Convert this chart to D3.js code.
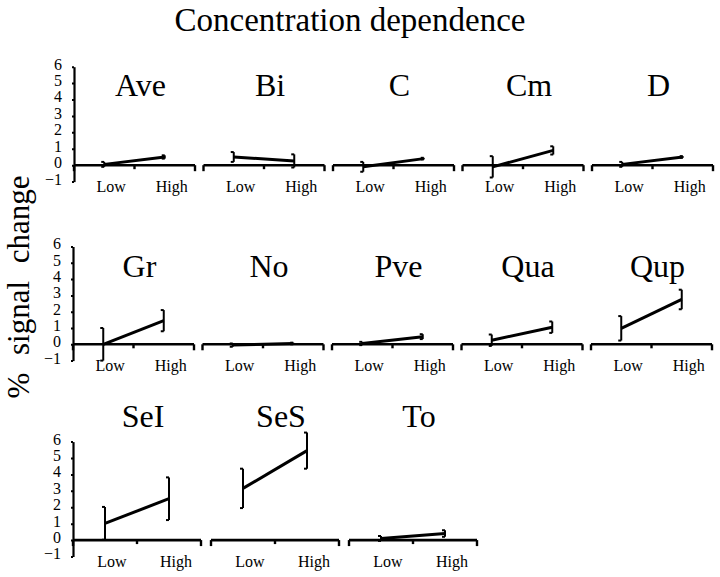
<!DOCTYPE html>
<html>
<head>
<meta charset="utf-8">
<script src="https://cdn.jsdelivr.net/npm/d3@7"></script>
<style>
  body { margin: 0; background: #fff; }
  text { font-family: "Liberation Serif", "Times New Roman", serif; fill: #000; }
</style>
</head>
<body>
<svg id="chart" width="720" height="577"></svg>
<script>
// odorant panels, laid out row by row
const rowNames = [
  ["Ave", "Bi", "C", "Cm", "D"],
  ["Gr", "No", "Pve", "Qua", "Qup"],
  ["SeI", "SeS", "To"]
];
const levels = ["Low", "High"];
const yTicks = [-1, 0, 1, 2, 3, 4, 5, 6];

// mean % signal change and error, same order as rowNames flattened
const lowMean  = [0.05, 0.5, -0.1, -0.1, 0.05,  0.0, -0.05, 0.05, 0.25, 0.98,  1.02, 3.15, 0.1];
const highMean = [0.5, 0.26, 0.4, 0.9, 0.5,     1.45, 0.05, 0.47, 1.05, 2.75,  2.52, 5.45, 0.4];
const lowErr   = [0.15, 0.3, 0.3, 0.65, 0.15,   1.0, 0.1, 0.1, 0.35, 0.75,     1.0, 1.2, 0.15];
const highErr  = [0.1, 0.4, 0.05, 0.25, 0.05,   0.65, 0.05, 0.15, 0.35, 0.6,   1.3, 1.1, 0.2];

// row geometry
const rowLayout = [
  { x0: 74, step: 129.5, w: 121, top: 66.7,  bottom: 181.6, titleY: 96 },
  { x0: 73, step: 129.5, w: 121, top: 246.5, bottom: 360.6, titleY: 277 },
  { x0: 73, step: 138,   w: 128, top: 441.6, bottom: 556.5, titleY: 427 }
];

const svg = d3.select("#chart");

svg.append("text")
  .attr("x", 350)
  .attr("y", 31)
  .attr("text-anchor", "middle")
  .style("font-size", "33px")
  .text("Concentration dependence");

svg.append("text")
  .attr("transform", "translate(29,287) rotate(-90)")
  .attr("text-anchor", "middle")
  .style("font-size", "31px")
  .style("word-spacing", "10px")
  .text("% signal change");

let idx = 0;
rowNames.forEach((names, r) => {
  const L = rowLayout[r];
  const y = d3.scaleLinear().domain([-1, 6]).range([L.bottom, L.top]);

  names.forEach((name, c) => {
    const i = idx++;
    const x0 = L.x0 + c * L.step;
    const x = d3.scaleBand().domain(levels).range([x0, x0 + L.w]);
    const g = svg.append("g");

    // y axis only in first column
    if (c === 0) {
      const yAxis = d3.axisLeft(y)
        .tickValues(yTicks)
        .tickSize(2)
        .tickSizeOuter(0)
        .tickPadding(10)
        .tickFormat(d3.format("d"));
      const ag = g.append("g")
        .attr("transform", `translate(${x0},0)`)
        .call(yAxis);
      ag.select(".domain").attr("stroke", "#000").attr("stroke-width", 2.2);
      ag.selectAll(".tick line").attr("stroke", "#000").attr("stroke-width", 2);
      ag.selectAll(".tick text")
        .attr("dy", "0.15em")
        .style("font-size", "16px")
        .style("font-family", "Liberation Serif, serif");
    }

    // x axis at zero
    const y0 = y(0);
    g.append("line")
      .attr("x1", x0).attr("x2", x0 + L.w)
      .attr("y1", y0).attr("y2", y0)
      .attr("stroke", "#000").attr("stroke-width", 2.6);
    const edges = [x0, x0 + x.bandwidth(), x0 + L.w];
    g.selectAll(".xt").data(edges).join("line")
      .attr("x1", d => d).attr("x2", d => d)
      .attr("y1", y0).attr("y2", (d, k) => y0 + (k === 1 ? 4 : 6))
      .attr("stroke", "#000").attr("stroke-width", 2.4);
    g.selectAll(".xl").data(levels).join("text")
      .attr("x", d => x(d) + x.bandwidth() / 2 + 7)
      .attr("y", y0 + 27)
      .attr("text-anchor", "middle")
      .style("font-size", "16px")
      .text(d => d);

    // panel title
    g.append("text")
      .attr("x", x0 + L.w / 2 + 6)
      .attr("y", L.titleY)
      .attr("text-anchor", "middle")
      .style("font-size", "32px")
      .text(name);

    const pts = [
      { lev: "Low", m: lowMean[i], e: lowErr[i] },
      { lev: "High", m: highMean[i], e: highErr[i] }
    ];
    const cx = d => x(d.lev) + x.bandwidth() / 2;

    // error bars
    pts.forEach(p => {
      const px = cx(p);
      g.append("line")
        .attr("x1", px).attr("x2", px)
        .attr("y1", y(p.m - p.e)).attr("y2", y(p.m + p.e))
        .attr("stroke", "#000").attr("stroke-width", 2);
      [p.m - p.e, p.m + p.e].forEach(v => {
        g.append("line")
          .attr("x1", px - 3).attr("x2", px)
          .attr("y1", y(v)).attr("y2", y(v))
          .attr("stroke", "#000").attr("stroke-width", 2);
      });
    });

    g.append("path")
      .datum(pts)
      .attr("fill", "none")
      .attr("stroke", "#000")
      .attr("stroke-width", 3)
      .attr("d", d3.line().x(cx).y(d => y(d.m)));
  });
});
</script>
</body>
</html>
